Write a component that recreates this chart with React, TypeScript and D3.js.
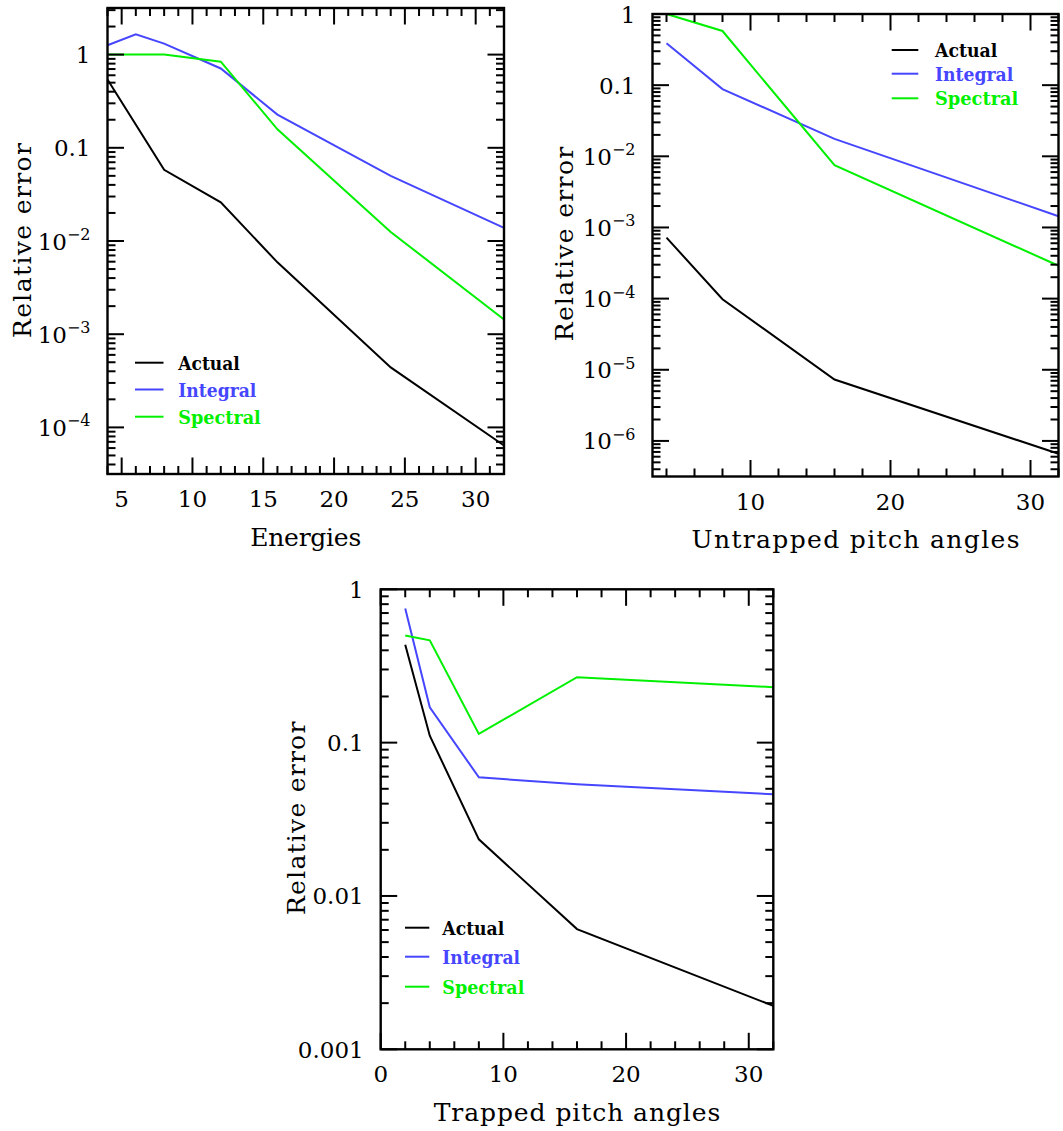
import React from "react";
import * as d3 from "d3";

// ---------- data ----------
const SERIES_NAMES = ["Actual", "Integral", "Spectral"];
const SERIES_COLORS = ["#000000", "#4646ff", "#00f000"];

// Panel 1: Energies
const ENERGY_X = [4, 8, 12, 16, 24, 32];
const ENERGY_X_INTEGRAL = [4, 6, 8, 12, 16, 24, 32];
const ENERGY_ACTUAL = [0.54, 0.058, 0.026, 0.0059, 4.4e-4, 6.4e-5];
const ENERGY_INTEGRAL = [1.26, 1.65, 1.31, 0.71, 0.227, 0.05, 0.0138];
const ENERGY_SPECTRAL = [1.0, 1.0, 0.84, 0.158, 0.0125, 0.00144];

// Panel 2: Untrapped pitch angles
const UNTRAPPED_X = [4, 8, 16, 32];
const UNTRAPPED_ACTUAL = [7.2e-4, 9.8e-5, 7.3e-6, 6.6e-7];
const UNTRAPPED_INTEGRAL = [0.387, 0.088, 0.0176, 1.44e-3];
const UNTRAPPED_SPECTRAL = [1.0, 0.577, 0.0075, 2.9e-4];

// Panel 3: Trapped pitch angles
const TRAPPED_X = [2, 4, 8, 16, 32];
const TRAPPED_ACTUAL = [0.435, 0.111, 0.0234, 0.00608, 0.00192];
const TRAPPED_INTEGRAL = [0.75, 0.17, 0.0594, 0.0535, 0.046];
const TRAPPED_SPECTRAL = [0.5, 0.465, 0.114, 0.267, 0.23];

const X_TITLES = ["Energies", "Untrapped pitch angles", "Trapped pitch angles"];
const Y_TITLE = "Relative error";

// ---------- layout ----------
type Series = { xs: number[]; ys: number[] };
type PanelCfg = {
  left: number; right: number; top: number; bottom: number;
  xDomain: [number, number]; yDomain: [number, number];
  xMajorStart: number; xMajorStep: number; xMinorStep: number;
  yLabelMode: "sci" | "dec";
  series: Series[];
  xTitle: string; xTitleY: number; xTitleLen: number;
  yTitleX: number; yTitleCY: number; yTitleLen: number;
  legend: { lx1: number; lx2: number; tx: number; ys: number[]; lens: number[] };
};

const PANELS: PanelCfg[] = [
  {
    left: 107.5, right: 504, top: 8, bottom: 474,
    xDomain: [4, 32], yDomain: [Math.pow(10, -4.5), Math.pow(10, 0.5)],
    xMajorStart: 5, xMajorStep: 5, xMinorStep: 1,
    yLabelMode: "sci",
    series: [
      { xs: ENERGY_X, ys: ENERGY_ACTUAL },
      { xs: ENERGY_X_INTEGRAL, ys: ENERGY_INTEGRAL },
      { xs: ENERGY_X, ys: ENERGY_SPECTRAL },
    ],
    xTitle: X_TITLES[0], xTitleY: 546, xTitleLen: 111,
    yTitleX: 31, yTitleCY: 240.5, yTitleLen: 195,
    legend: { lx1: 135, lx2: 163.5, tx: 178.3, ys: [362.7, 389.5, 416.7], lens: [61.5, 78, 82.5] },
  },
  {
    left: 652.5, right: 1058.5, top: 14, bottom: 476.5,
    xDomain: [3, 32], yDomain: [Math.pow(10, -6.5), 1],
    xMajorStart: 10, xMajorStep: 10, xMinorStep: 2,
    yLabelMode: "sci",
    series: [
      { xs: UNTRAPPED_X, ys: UNTRAPPED_ACTUAL },
      { xs: UNTRAPPED_X, ys: UNTRAPPED_INTEGRAL },
      { xs: UNTRAPPED_X, ys: UNTRAPPED_SPECTRAL },
    ],
    xTitle: X_TITLES[1], xTitleY: 548, xTitleLen: 328,
    yTitleX: 573, yTitleCY: 244, yTitleLen: 194.5,
    legend: { lx1: 891.7, lx2: 918.3, tx: 935, ys: [50, 73.7, 98.3], lens: [62.3, 78.3, 83.3] },
  },
  {
    left: 380.7, right: 773.3, top: 589.3, bottom: 1049.3,
    xDomain: [0, 32], yDomain: [0.001, 1],
    xMajorStart: 0, xMajorStep: 10, xMinorStep: 2,
    yLabelMode: "dec",
    series: [
      { xs: TRAPPED_X, ys: TRAPPED_ACTUAL },
      { xs: TRAPPED_X, ys: TRAPPED_INTEGRAL },
      { xs: TRAPPED_X, ys: TRAPPED_SPECTRAL },
    ],
    xTitle: X_TITLES[2], xTitleY: 1121, xTitleLen: 286.7,
    yTitleX: 305, yTitleCY: 818.3, yTitleLen: 193.3,
    legend: { lx1: 405, lx2: 429.3, tx: 442.3, ys: [927.7, 956.7, 986.7], lens: [62, 77.7, 82] },
  },
];

const FONT = "'DejaVu Serif', serif";
const MAJOR = 16.5;
const MINOR = 8;
const EPS = 1e-9;

function yLabel(exp: number, mode: "sci" | "dec", x: number, y: number, key: string) {
  const common = { x, y: y + 8.5, textAnchor: "end" as const, fontFamily: FONT, fontSize: 23, fill: "#000" };
  if (mode === "sci" && exp < -1) {
    return (
      <text key={key} {...common}>
        <tspan>10</tspan>
        <tspan dy={-9.5} fontSize={16}>{"\u2212" + Math.abs(exp)}</tspan>
      </text>
    );
  }
  const s = exp >= 0 ? String(Math.pow(10, exp)) : "0." + "0".repeat(-exp - 1) + "1";
  return <text key={key} {...common}>{s}</text>;
}

function Panel({ cfg }: { cfg: PanelCfg }) {
  const x = d3.scaleLinear().domain(cfg.xDomain).range([cfg.left, cfg.right]);
  const y = d3.scaleLog().domain(cfg.yDomain).range([cfg.bottom, cfg.top]);

  const xMinor = d3.range(Math.ceil(cfg.xDomain[0] / cfg.xMinorStep) * cfg.xMinorStep, cfg.xDomain[1] + EPS, cfg.xMinorStep);
  const xMajor = d3.range(cfg.xMajorStart, cfg.xDomain[1] + EPS, cfg.xMajorStep);
  const isMajorX = (v: number) => xMajor.some((m) => Math.abs(m - v) < EPS);

  const e0 = Math.floor(Math.log10(cfg.yDomain[0]));
  const e1 = Math.ceil(Math.log10(cfg.yDomain[1]));
  const yMajorExp: number[] = [];
  const yMinor: number[] = [];
  for (let e = e0; e <= e1; e++) {
    const v = Math.pow(10, e);
    if (v >= cfg.yDomain[0] * (1 - EPS) && v <= cfg.yDomain[1] * (1 + EPS)) yMajorExp.push(e);
    for (let k = 2; k <= 9; k++) {
      const m = k * v;
      if (m >= cfg.yDomain[0] && m <= cfg.yDomain[1]) yMinor.push(m);
    }
  }

  const line = d3.line<[number, number]>().x((d) => x(d[0])).y((d) => y(d[1]));
  const tickStroke = { stroke: "#000", strokeWidth: 2 };

  return (
    <g>
      {cfg.series.map((s, i) => (
        <path
          key={"s" + i}
          d={line(s.xs.map((v, j) => [v, s.ys[j]] as [number, number])) || ""}
          fill="none"
          stroke={SERIES_COLORS[i]}
          strokeWidth={2}
          strokeLinejoin="miter"
        />
      ))}
      {xMinor.map((v, i) => {
        const len = isMajorX(v) ? MAJOR : MINOR;
        const px = x(v);
        return (
          <g key={"xt" + i}>
            <line x1={px} x2={px} y1={cfg.bottom} y2={cfg.bottom - len} {...tickStroke} />
            <line x1={px} x2={px} y1={cfg.top} y2={cfg.top + len} {...tickStroke} />
          </g>
        );
      })}
      {xMajor.map((v, i) => (
        <text key={"xl" + i} x={x(v)} y={cfg.bottom + 33} textAnchor="middle" fontFamily={FONT} fontSize={23} fill="#000">
          {String(v)}
        </text>
      ))}
      {yMajorExp.map((e, i) => {
        const py = y(Math.pow(10, e));
        return (
          <g key={"ym" + i}>
            <line x1={cfg.left} x2={cfg.left + MAJOR} y1={py} y2={py} {...tickStroke} />
            <line x1={cfg.right} x2={cfg.right - MAJOR} y1={py} y2={py} {...tickStroke} />
            {yLabel(e, cfg.yLabelMode, cfg.left - 17, py, "yl" + i)}
          </g>
        );
      })}
      {yMinor.map((v, i) => {
        const py = y(v);
        return (
          <g key={"yn" + i}>
            <line x1={cfg.left} x2={cfg.left + MINOR} y1={py} y2={py} {...tickStroke} />
            <line x1={cfg.right} x2={cfg.right - MINOR} y1={py} y2={py} {...tickStroke} />
          </g>
        );
      })}
      <rect x={cfg.left} y={cfg.top} width={cfg.right - cfg.left} height={cfg.bottom - cfg.top} fill="none" stroke="#000" strokeWidth={2.4} />
      <text
        x={(cfg.left + cfg.right) / 2}
        y={cfg.xTitleY}
        textAnchor="middle"
        fontFamily={FONT}
        fontSize={25}
        textLength={cfg.xTitleLen}
        lengthAdjust="spacing"
        fill="#000"
      >
        {cfg.xTitle}
      </text>
      <text
        transform={`translate(${cfg.yTitleX},${cfg.yTitleCY}) rotate(-90)`}
        x={0}
        y={0}
        textAnchor="middle"
        fontFamily={FONT}
        fontSize={25}
        textLength={cfg.yTitleLen}
        lengthAdjust="spacing"
        fill="#000"
      >
        {Y_TITLE}
      </text>
      {SERIES_NAMES.map((name, i) => (
        <g key={"lg" + i}>
          <line x1={cfg.legend.lx1} x2={cfg.legend.lx2} y1={cfg.legend.ys[i]} y2={cfg.legend.ys[i]} stroke={SERIES_COLORS[i]} strokeWidth={2} />
          <text
            x={cfg.legend.tx}
            y={cfg.legend.ys[i] + 7}
            fontFamily={FONT}
            fontWeight="bold"
            fontSize={19}
            textLength={cfg.legend.lens[i]}
            lengthAdjust="spacingAndGlyphs"
            fill={SERIES_COLORS[i]}
          >
            {name}
          </text>
        </g>
      ))}
    </g>
  );
}

export default function App() {
  return (
    <svg
      width={1063}
      height={1131}
      style={{ position: "absolute", left: 0, top: 0, background: "#fff" }}
    >
      <rect x={0} y={0} width={1063} height={1131} fill="#fff" />
      {PANELS.map((p, i) => (
        <Panel key={i} cfg={p} />
      ))}
    </svg>
  );
}
